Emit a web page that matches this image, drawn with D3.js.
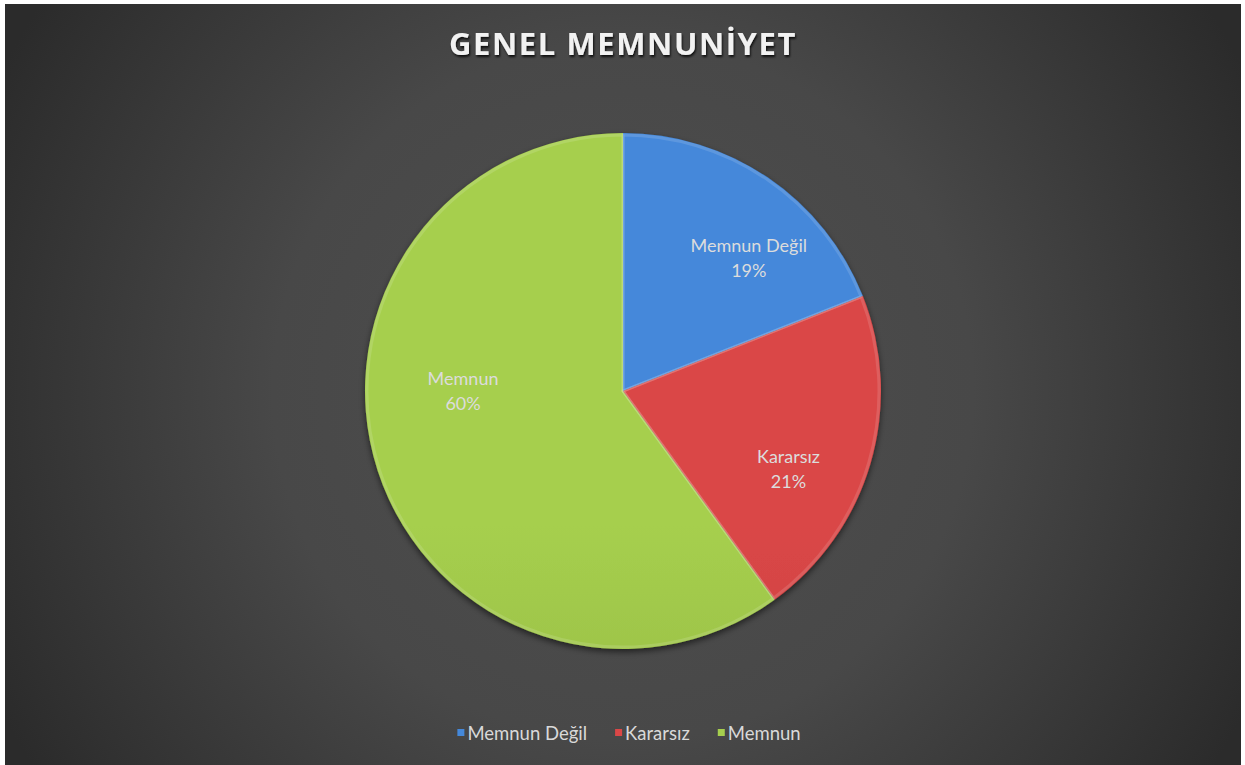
<!DOCTYPE html>
<html>
<head>
<meta charset="utf-8">
<script src="https://cdn.jsdelivr.net/npm/d3@7"></script>
<style>
  body { margin: 0; background: #fff; }
  svg { display: block; }
</style>
</head>
<body>
<svg width="1245" height="765"></svg>
<script>
const categories = ['Memnun Değil', 'Kararsız', 'Memnun'];
const values = [19, 21, 60];
const colorsTop = ['#4488da', '#da4747', '#a6cf4e'];
const colorsBottom = ['#336dbd', '#b83535', '#87a83c'];
const title = 'GENEL MEMNUNİYET';

const W = 1245, H = 765;
const cx = 623, cy = 391, r = 258;

const svg = d3.select('svg');
const defs = svg.append('defs');

// background: dark radial, wider than tall
const bg = defs.append('radialGradient').attr('id', 'bg')
    .attr('gradientUnits', 'userSpaceOnUse')
    .attr('cx', cx).attr('cy', cy).attr('r', 700);
bg.append('stop').attr('offset', '0%').attr('stop-color', '#4f4f4f');
bg.append('stop').attr('offset', '50%').attr('stop-color', '#484848');
bg.append('stop').attr('offset', '88%').attr('stop-color', '#323232');
bg.append('stop').attr('offset', '100%').attr('stop-color', '#2b2b2b');

svg.append('rect')
    .attr('x', 5).attr('y', 4)
    .attr('width', 1236).attr('height', H - 4)
    .attr('fill', 'url(#bg)');

// slice gradients (lighter at top)
colorsTop.forEach((c, i) => {
    const g = defs.append('linearGradient').attr('id', 'g' + i)
        .attr('gradientUnits', 'userSpaceOnUse')
        .attr('x1', 0).attr('y1', cy - r).attr('x2', 0).attr('y2', cy + r);
    g.append('stop').attr('offset', '0%').attr('stop-color', c);
    g.append('stop').attr('offset', '100%').attr('stop-color', colorsBottom[i]);
});

const shadow = defs.append('filter').attr('id', 'shadow')
    .attr('x', '-20%').attr('y', '-20%').attr('width', '140%').attr('height', '140%');
shadow.append('feDropShadow').attr('dx', 0).attr('dy', 3).attr('stdDeviation', 3)
    .attr('flood-color', '#000').attr('flood-opacity', 0.55);

const tshadow = defs.append('filter').attr('id', 'tshadow');
tshadow.append('feDropShadow').attr('dx', 1).attr('dy', 2).attr('stdDeviation', 1.2)
    .attr('flood-color', '#000').attr('flood-opacity', 0.8);

const pie = d3.pie().sort(null).value(d => d)(values);
const arc = d3.arc().innerRadius(0).outerRadius(r);

const g = svg.append('g').attr('transform', `translate(${cx},${cy})`);

g.append('g').attr('filter', 'url(#shadow)')
    .selectAll('path')
    .data(pie)
    .join('path')
    .attr('d', arc)
    .attr('fill', (d, i) => `url(#g${i})`);

// bevel: soft light inner edge on each slice
const bevelArc = d3.arc().innerRadius(0).outerRadius(r - 2);
g.append('g')
    .selectAll('path')
    .data(pie)
    .join('path')
    .attr('d', bevelArc)
    .attr('fill', 'none')
    .attr('stroke', '#fff')
    .attr('stroke-opacity', 0.13)
    .attr('stroke-width', 3)
    .attr('stroke-linejoin', 'round');

// data labels
const labelR = r * 0.71;
const labels = g.selectAll('text.lbl')
    .data(pie)
    .join('text')
    .attr('class', 'lbl')
    .attr('text-anchor', 'middle')
    .attr('font-family', 'Lato, "Open Sans", sans-serif')
    .attr('font-size', 18)
    .attr('fill', '#dcdcdc')
    .attr('transform', d => {
        // Excel best fit: labels sit a bit clockwise; the big slice label at 9 o'clock
        let a = (d.startAngle + d.endAngle) / 2 + 0.16;
        let rr = labelR;
        if (d.endAngle - d.startAngle > Math.PI) { a = 1.5 * Math.PI; rr = r * 0.62; }
        return `translate(${Math.sin(a) * rr},${-Math.cos(a) * rr})`;
    });
labels.append('tspan').attr('x', 0).attr('y', -6).text((d, i) => categories[i]);
labels.append('tspan').attr('x', 0).attr('y', 19).text(d => Math.round(d.value) + '%');

// title
svg.append('text')
    .attr('x', cx).attr('y', 55)
    .attr('text-anchor', 'middle')
    .attr('font-family', '"Open Sans", sans-serif')
    .attr('font-weight', 'bold')
    .attr('font-size', 31)
    .attr('letter-spacing', 1.6)
    .attr('fill', '#f2f2f2')
    .attr('filter', 'url(#tshadow)')
    .text(title);

// legend
const legend = svg.append('g').attr('font-family', 'Lato, "Open Sans", sans-serif')
    .attr('font-size', 18.5).attr('fill', '#d9d9d9');
const gap = 28;
let lx = 0;
const items = legend.selectAll('g').data(categories).join('g');
items.append('rect').attr('width', 7).attr('height', 7).attr('y', -11)
    .attr('fill', (d, i) => colorsTop[i]);
items.append('text').attr('x', 10).text(d => d);
items.each(function() {
    const w = this.getBBox().width;
    d3.select(this).attr('transform', `translate(${lx},0)`);
    lx += w + gap;
});
legend.attr('transform', `translate(${cx + 6 - (lx - gap) / 2},740)`);
</script>
</body>
</html>
